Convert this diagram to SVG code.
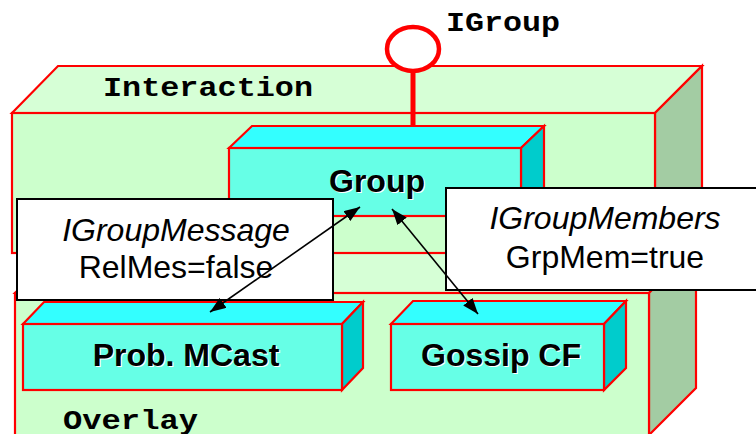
<svg xmlns="http://www.w3.org/2000/svg" width="756" height="434" viewBox="0 0 756 434">
  <style>
    .edge { stroke: #FF0000; stroke-width: 2.2; stroke-linejoin: miter; }
    .pkg-front { fill: #CCFFCC; }
    .pkg-top { fill: #D6FFD6; }
    .pkg-side { fill: #A3CCA3; }
    .cmp-front { fill: #66FFE6; }
    .cmp-top { fill: #33FFFF; }
    .cmp-side { fill: #00CCCC; }
    .mono { font-family: "Liberation Mono", "DejaVu Sans Mono", monospace; font-weight: bold; font-size: 28px; fill: #000; }
    .cname { font-family: "Liberation Sans", Arial, sans-serif; font-weight: bold; font-size: 32px; text-anchor: middle; }
    .shadow { fill: #FFFFFF; }
    .ink { fill: #000000; }
    .note { fill: #FFFFFF; stroke: #000000; stroke-width: 2; }
    .note-text { font-family: "Liberation Sans", Arial, sans-serif; font-size: 32px; text-anchor: middle; fill: #000; }
    .it { font-style: italic; }
    .conn { stroke: #000; stroke-width: 1.6; fill: none; marker-start: url(#head); marker-end: url(#head); }
  </style>
  <defs>
    <marker id="head" viewBox="0 0 16 12" refX="16" refY="6" markerWidth="16" markerHeight="12" markerUnits="userSpaceOnUse" orient="auto-start-reverse">
      <path d="M0,0 L16,6 L0,12 Z" fill="#000"/>
    </marker>
  </defs>

  <!-- Overlay package (behind) -->
  <g id="overlay">
    <polygon class="pkg-top edge" points="15,293 61,246 696,246 649,293"/>
    <polygon class="pkg-side edge" points="649,293 696,246 696,388 649,435"/>
    <rect class="pkg-front edge" x="15" y="293" width="634" height="145"/>
    <text class="mono" x="63" y="429" textLength="135" lengthAdjust="spacingAndGlyphs">Overlay</text>
  </g>

  <!-- Interaction package -->
  <g id="interaction">
    <polygon class="pkg-top edge" points="12,113 58,66 702,66 655,113"/>
    <polygon class="pkg-side edge" points="655,113 702,66 702,206 655,253"/>
    <rect class="pkg-front edge" x="12" y="113" width="643" height="140"/>
    <text class="mono" x="103" y="96" textLength="210" lengthAdjust="spacingAndGlyphs">Interaction</text>
  </g>

  <!-- IGroup provided interface -->
  <g id="igroup">
    <line x1="413" y1="72" x2="413" y2="127" stroke="#FF0000" stroke-width="5"/>
    <ellipse cx="413" cy="49" rx="26" ry="22" fill="#FFFFFF" stroke="#FF0000" stroke-width="4.5"/>
    <text class="mono" x="446" y="31" textLength="114" lengthAdjust="spacingAndGlyphs">IGroup</text>
  </g>

  <!-- Group component -->
  <g id="group">
    <polygon class="cmp-top edge" points="229,148 252,126 544,126 521,148"/>
    <polygon class="cmp-side edge" points="521,148 544,126 544,194 521,216"/>
    <rect class="cmp-front edge" x="229" y="148" width="292" height="68"/>
    <text class="cname shadow" x="378" y="193">Group</text>
    <text class="cname ink" x="377" y="192">Group</text>
  </g>

  <!-- Prob. MCast component -->
  <g id="probmcast">
    <polygon class="cmp-top edge" points="23,324 44,302 363,302 342,324"/>
    <polygon class="cmp-side edge" points="342,324 363,302 363,368 342,390"/>
    <rect class="cmp-front edge" x="23" y="324" width="319" height="66"/>
    <text class="cname shadow" x="187" y="367">Prob. MCast</text>
    <text class="cname ink" x="186" y="366">Prob. MCast</text>
  </g>

  <!-- Gossip CF component -->
  <g id="gossipcf">
    <polygon class="cmp-top edge" points="391,324 413,301 626,301 604,324"/>
    <polygon class="cmp-side edge" points="604,324 626,301 626,368 604,390"/>
    <rect class="cmp-front edge" x="391" y="324" width="213" height="66"/>
    <text class="cname shadow" x="502" y="367">Gossip CF</text>
    <text class="cname ink" x="501" y="366">Gossip CF</text>
  </g>

  <!-- Binding notes -->
  <g id="note-message">
    <rect class="note" x="17" y="199" width="316" height="101"/>
    <text class="note-text it" x="176" y="241">IGroupMessage</text>
    <text class="note-text" x="176" y="278">RelMes=false</text>
  </g>
  <g id="note-members">
    <rect class="note" x="446" y="188" width="320" height="102"/>
    <text class="note-text it" x="605" y="229">IGroupMembers</text>
    <text class="note-text" x="605" y="268">GrpMem=true</text>
  </g>

  <!-- Connectors -->
  <g id="connectors">
    <line class="conn" x1="360" y1="207" x2="210" y2="312"/>
    <line class="conn" x1="392" y1="209" x2="478" y2="314"/>
  </g>
</svg>
